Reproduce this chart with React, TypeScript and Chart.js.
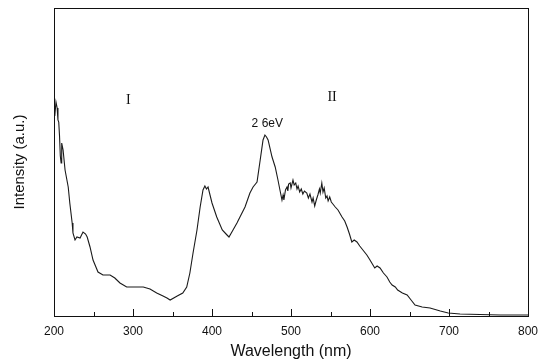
import React, { useEffect, useRef } from "react";
import { Chart, registerables } from "chart.js";

Chart.register(...registerables);

const wavelengths = [
  201, 202.5, 204, 205, 206, 207, 208, 209, 209.5, 210, 211.5, 214, 218, 220, 223, 224, 226.6, 229, 233,
  236.7, 240, 242, 245.6, 249.4, 255.7, 262, 271, 277, 283.5, 292, 300, 306, 313, 321.5, 330, 338, 343,
  347, 356, 363, 368, 372, 376, 381, 385, 388.6, 391, 393, 395, 400, 406, 413, 419, 421.5, 426.6, 431.6, 435.4,
  441.8, 448, 452, 457, 461, 464.6, 467, 469, 471, 476, 480, 483.5, 486, 488.6, 490, 491, 493, 495, 496, 497,
  499, 500, 502.5, 504, 506, 507.6, 509, 511, 513, 515, 517, 520, 522, 524, 526.6, 528, 530, 532, 534,
  536, 537, 539, 540.5, 542, 544, 545.6, 547, 549, 551, 553, 556, 559.5, 564.6, 568, 571, 574, 577, 580,
  583.5, 587, 591, 596, 600, 603, 606, 609, 612.7, 617, 621.5, 625, 628, 632, 635, 641, 647, 652, 657,
  666, 676, 689, 699, 714, 739, 765, 800,
];
const intensity = [
  200, 214, 208, 196, 194, 180, 160, 153, 170, 173, 166, 146, 129, 113, 93, 83, 76, 79, 78,
  84, 82, 79, 69, 56, 44, 41, 41, 38, 33, 29, 29, 29, 29, 27, 23, 20, 18,
  16, 20, 23, 29, 43, 63, 86, 109, 126, 130, 127, 129, 113, 99, 86, 81, 79, 86, 93, 99,
  109, 123, 129, 134, 156, 176, 181, 179, 176, 159, 149, 136, 126, 116, 121, 116, 126, 129, 125, 132,
  133, 128, 136, 131, 133, 127, 130, 124, 127, 122, 125, 123, 118, 122, 114, 118, 110, 116, 121,
  127, 123, 133, 124, 128, 118, 120, 115, 119, 114, 112, 109, 106, 99, 95, 89, 82, 74, 76,
  74, 70, 66, 61, 56, 52, 48, 50, 48, 43, 39, 34, 31, 29, 26, 23, 21, 16, 11,
  9, 8, 5, 3, 2, 1.5, 1, 1,
];
const xTicks = [200, 300, 400, 500, 600, 700, 800];
const xMinorTicks = [250, 350, 450, 550, 650, 750];
const notes = [
  { text: "I", x: 294, y: 216, serif: true },
  { text: "II", x: 552, y: 219, serif: true },
  { text: "2 6eV", x: 470, y: 192, serif: false },
];
const xTitle = "Wavelength (nm)";
const yTitle = "Intensity (a.u.)";

const framePlugin = {
  id: "frame",
  afterDraw(chart: any) {
    const { ctx, chartArea: a, scales } = chart;
    ctx.save();
    ctx.strokeStyle = "#111";
    ctx.lineWidth = 1;
    ctx.strokeRect(a.left + 0.5, a.top + 0.5, a.right - a.left, a.bottom - a.top);
    const xs = scales.x;
    ctx.beginPath();
    xTicks.forEach((v) => {
      const px = Math.round(xs.getPixelForValue(v)) + 0.5;
      ctx.moveTo(px, a.bottom);
      ctx.lineTo(px, a.bottom - 7);
    });
    xMinorTicks.forEach((v) => {
      const px = Math.round(xs.getPixelForValue(v)) + 0.5;
      ctx.moveTo(px, a.bottom);
      ctx.lineTo(px, a.bottom - 4);
    });
    ctx.stroke();
    const ys = scales.y;
    ctx.fillStyle = "#111";
    ctx.textAlign = "center";
    ctx.textBaseline = "middle";
    notes.forEach((n) => {
      ctx.font = n.serif ? "14px 'Liberation Serif'" : "12px 'Liberation Sans'";
      ctx.fillText(n.text, xs.getPixelForValue(n.x), ys.getPixelForValue(n.y));
    });
    ctx.restore();
  },
};

export default function App() {
  const ref = useRef<HTMLCanvasElement>(null);
  useEffect(() => {
    document.body.style.margin = "0";
    const chart = new Chart(ref.current!, {
      type: "line",
      data: {
        datasets: [
          {
            data: wavelengths.map((w, i) => ({ x: w, y: intensity[i] })),
            borderColor: "#1a1a1a",
            borderWidth: 1.1,
            pointRadius: 0,
            tension: 0,
            fill: false,
          },
        ],
      },
      options: {
        responsive: false,
        animation: false,
        layout: { padding: { top: 8, right: 19, left: 0, bottom: 0 } },
        plugins: { legend: { display: false }, tooltip: { enabled: false } },
        scales: {
          x: {
            type: "linear",
            min: 200,
            max: 800,
            afterBuildTicks: (s: any) => {
              s.ticks = xTicks.map((v) => ({ value: v }));
            },
            afterFit: (s: any) => {
              s.height = 47;
            },
            grid: { display: false, drawTicks: false },
            border: { display: false },
            ticks: {
              color: "#111",
              font: { family: "'Liberation Sans'", size: 12 },
              padding: 8,
              maxRotation: 0,
            },
            title: {
              display: true,
              text: xTitle,
              color: "#111",
              font: { family: "'Liberation Sans'", size: 16 },
              padding: { top: 0, bottom: 2 },
            },
          },
          y: {
            min: 0,
            max: 308,
            afterFit: (s: any) => {
              s.width = 54;
            },
            grid: { display: false, drawTicks: false },
            border: { display: false },
            ticks: { display: false },
            title: {
              display: true,
              text: yTitle,
              color: "#111",
              font: { family: "'Liberation Sans'", size: 15 },
              padding: { top: 11, bottom: 0 },
            },
          },
        },
      },
      plugins: [framePlugin],
    });
    return () => chart.destroy();
  }, []);
  return <canvas ref={ref} width={547} height={363} style={{ display: "block" }} />;
}
